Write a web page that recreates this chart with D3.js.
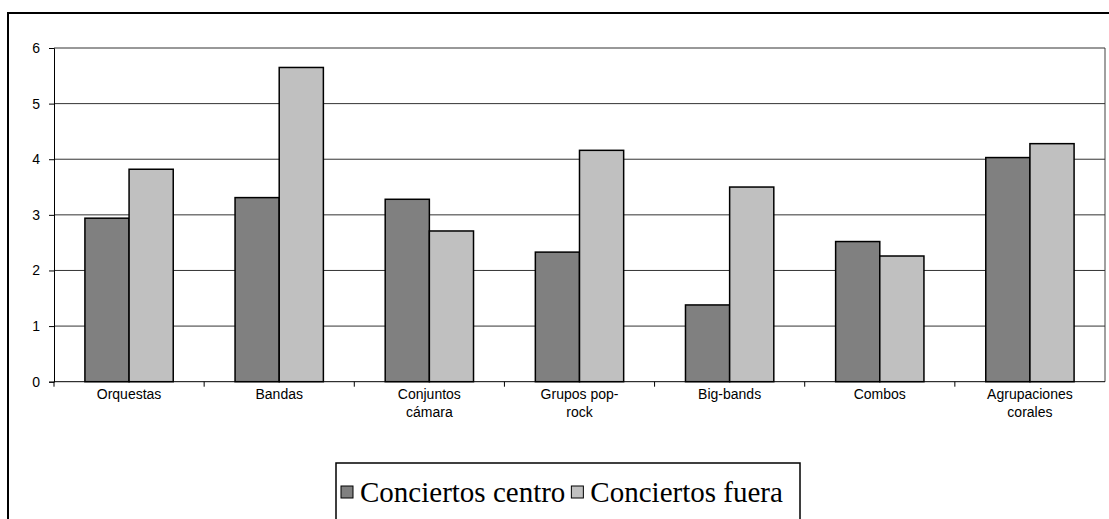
<!DOCTYPE html>
<html>
<head>
<meta charset="utf-8">
<script src="https://cdn.jsdelivr.net/npm/d3@7"></script>
<style>
  body { margin: 0; background: #fff; }
  svg { display: block; }
</style>
</head>
<body>
<svg id="chart" width="1109" height="519"></svg>
<script>
const categories = ['Orquestas', 'Bandas', 'Conjuntos cámara', 'Grupos pop-rock', 'Big-bands', 'Combos', 'Agrupaciones corales']
const series = ['Conciertos centro', 'Conciertos fuera']
const centro = [2.94, 3.31, 3.28, 2.33, 1.38, 2.52, 4.03]
const fuera = [3.82, 5.65, 2.71, 4.16, 3.50, 2.26, 4.28]
const yTicks = [0, 1, 2, 3, 4, 5, 6]

const colors = ['#808080', '#c0c0c0']
const svg = d3.select('#chart')
const plotLeft = 54, plotRight = 1105, plotTop = 48, plotBottom = 381.7

// table built from the arrays
const data = categories.map((c, i) => ({ cat: c, values: [centro[i], fuera[i]] }))

// outer frame
svg.append('rect')
  .attr('x', 8).attr('y', 13)
  .attr('width', 1120).attr('height', 530)
  .attr('fill', 'none')
  .attr('stroke', '#000')
  .attr('stroke-width', 2)

const x = d3.scaleBand()
  .domain(categories)
  .range([plotLeft, plotRight])
  .paddingInner(0).paddingOuter(0)

const xSub = d3.scaleBand()
  .domain(series)
  .range([0, x.bandwidth()])
  .paddingInner(0)
  .paddingOuter(0.7)

const y = d3.scaleLinear()
  .domain([0, 6])
  .range([plotBottom, plotTop])

// plot frame (right side) + gridlines
svg.append('line')
  .attr('x1', plotRight).attr('x2', plotRight)
  .attr('y1', plotTop).attr('y2', plotBottom)
  .style('stroke', '#808080')
  .style('stroke-width', 1.5)

svg.append('g')
  .selectAll('line')
  .data(yTicks.filter(t => t > 0))
  .enter()
  .append('line')
    .attr('x1', plotLeft).attr('x2', plotRight)
    .attr('y1', d => y(d)).attr('y2', d => y(d))
    .style('stroke', '#333')
    .style('stroke-width', 1)

// bars
const groups = svg.selectAll('g.grupo')
  .data(data)
  .enter()
  .append('g')
    .attr('class', 'grupo')
    .attr('transform', d => `translate(${x(d.cat)}, 0)`)

groups.selectAll('rect')
  .data(d => d.values.map((v, j) => ({ s: series[j], v: v, j: j })))
  .enter()
  .append('rect')
    .attr('x', d => xSub(d.s))
    .attr('y', d => y(d.v))
    .attr('width', xSub.bandwidth())
    .attr('height', d => plotBottom - y(d.v))
    .attr('fill', d => colors[d.j])
    .style('stroke', '#000')
    .style('stroke-width', 1.5)

// y axis
const yAxis = d3.axisLeft(y)
  .tickValues(yTicks)
  .tickSize(5)
  .tickPadding(9)
  .tickFormat(d3.format('d'))

svg.append('g')
  .attr('transform', `translate(${plotLeft}, 0)`)
  .call(yAxis)
  .call(g => g.selectAll('text').style('font-family', 'Liberation Sans, Arial, sans-serif').style('font-size', '14px').style('fill', '#000'))
  .call(g => g.selectAll('line, path').style('stroke', '#000'))

// x axis: ticks at category boundaries
svg.append('line')
  .attr('x1', plotLeft).attr('x2', plotRight)
  .attr('y1', plotBottom).attr('y2', plotBottom)
  .style('stroke', '#000')
  .style('stroke-width', 1)

svg.append('g')
  .selectAll('line')
  .data(categories)
  .enter()
  .append('line')
    .attr('x1', d => x(d)).attr('x2', d => x(d))
    .attr('y1', plotBottom).attr('y2', plotBottom + 5)
    .style('stroke', '#000')

// category labels, wrapped
const labels = svg.append('g')
  .selectAll('text')
  .data(categories)
  .enter()
  .append('text')
    .attr('x', d => x(d) + x.bandwidth() / 2)
    .attr('y', plotBottom + 17)
    .attr('text-anchor', 'middle')
    .style('font-family', 'Liberation Sans, Arial, sans-serif')
    .style('font-size', '14px')

labels.each(function(d) {
  const t = d3.select(this)
  const cx = x(d) + x.bandwidth() / 2
  const tokens = d.split(/(?<=[ -])/)
  let lines = [], cur = ''
  tokens.forEach(tok => {
    const trial = cur + tok
    t.text(trial.trim())
    if (cur && this.getComputedTextLength() > 85) {
      lines.push(cur.trim())
      cur = tok
    } else {
      cur = trial
    }
  })
  lines.push(cur.trim())
  t.text(null)
  lines.forEach((ln, k) => {
    t.append('tspan').attr('x', cx).attr('dy', k === 0 ? 0 : 18).text(ln)
  })
})

// legend
const legend = svg.append('g').attr('transform', 'translate(336, 463)')
legend.append('rect')
  .attr('x', 0).attr('y', 0)
  .attr('width', 464).attr('height', 70)
  .attr('fill', '#fff')
  .style('stroke', '#000')
  .style('stroke-width', 1.5)

const items = legend.selectAll('g.item')
  .data(series)
  .enter()
  .append('g')
    .attr('class', 'item')

items.append('rect')
  .attr('y', 23)
  .attr('width', 12).attr('height', 12)
  .attr('fill', (d, i) => colors[i])
  .style('stroke', '#000')
  .style('stroke-width', 1)

items.append('text')
  .attr('x', 19)
  .attr('y', 39)
  .style('font-family', 'Liberation Serif, Times New Roman, serif')
  .style('font-size', '29px')
  .text(d => d)

let offset = 5
items.each(function() {
  d3.select(this).attr('transform', `translate(${offset}, 0)`)
  offset += this.getBBox().width + 6
})
</script>
</body>
</html>
